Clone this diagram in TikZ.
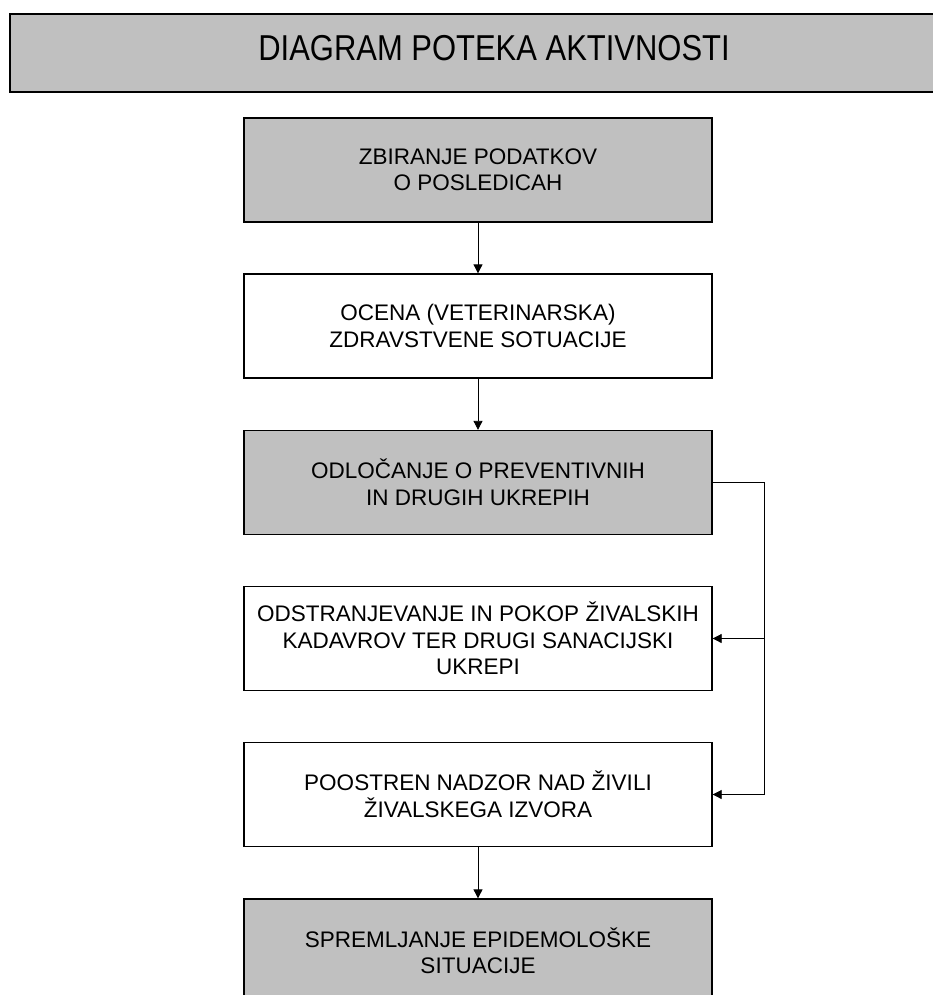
\documentclass[tikz,border=0pt]{standalone}
\usepackage{fontspec}
\usepackage{graphicx}
\setmainfont{Liberation Sans}
\usetikzlibrary{arrows.meta}
\definecolor{boxgrey}{HTML}{C0C0C0}
\tikzset{
  flowbox/.style={draw=black,line width=1.3pt,minimum width=468pt,minimum height=104pt,
    inner sep=0pt,align=center,font=\fontsize{22.5}{26.5}\selectfont},
  titlebox/.style={draw=black,line width=1.3pt,fill=boxgrey,minimum width=970pt,minimum height=78pt,inner sep=0pt},
  flowarrow/.style={-{Triangle[length=9pt,width=9pt]},line width=0.8pt}
}
\begin{document}
\begin{tikzpicture}[x=1pt,y=-1pt]
  \useasboundingbox (0,0) rectangle (933,995);
  % title bar
  \node[titlebox] (title) at (495,53) {};
  \node[font=\fontsize{36}{36}\selectfont,inner sep=0pt] (titletext) at (494,48)
    {\scalebox{0.86}[1]{DIAGRAM POTEKA AKTIVNOSTI}};
  % activity boxes
  \node[flowbox,fill=boxgrey] (collect) at (478,170) {ZBIRANJE PODATKOV\\O POSLEDICAH};
  \node[flowbox,fill=white] (assess) at (478,326) {OCENA (VETERINARSKA)\\ZDRAVSTVENE SOTUACIJE};
  \node[flowbox,fill=boxgrey] (decide) at (478,482.5) {ODLOČANJE O PREVENTIVNIH\\IN DRUGIH UKREPIH};
  \node[flowbox,fill=white] (remove) at (478,638.5) {ODSTRANJEVANJE IN POKOP ŽIVALSKIH\\KADAVROV TER DRUGI SANACIJSKI\\UKREPI};
  \node[flowbox,fill=white] (control) at (478,794.5) {POOSTREN NADZOR NAD ŽIVILI\\ŽIVALSKEGA IZVORA};
  \node[flowbox,fill=boxgrey] (monitor) at (478,951) {SPREMLJANJE EPIDEMOLOŠKE\\SITUACIJE};
  % main flow
  \draw[flowarrow] (collect) -- (assess);
  \draw[flowarrow] (assess) -- (decide);
  \draw[flowarrow] (control) -- (monitor);
  % side branch
  \coordinate (railtop) at ([xshift=52pt]decide.east);
  \draw[flowarrow] (decide.east) -- (railtop) |- (control.east);
  \draw[flowarrow] (railtop |- remove.east) -- (remove.east);
\end{tikzpicture}
\end{document}
